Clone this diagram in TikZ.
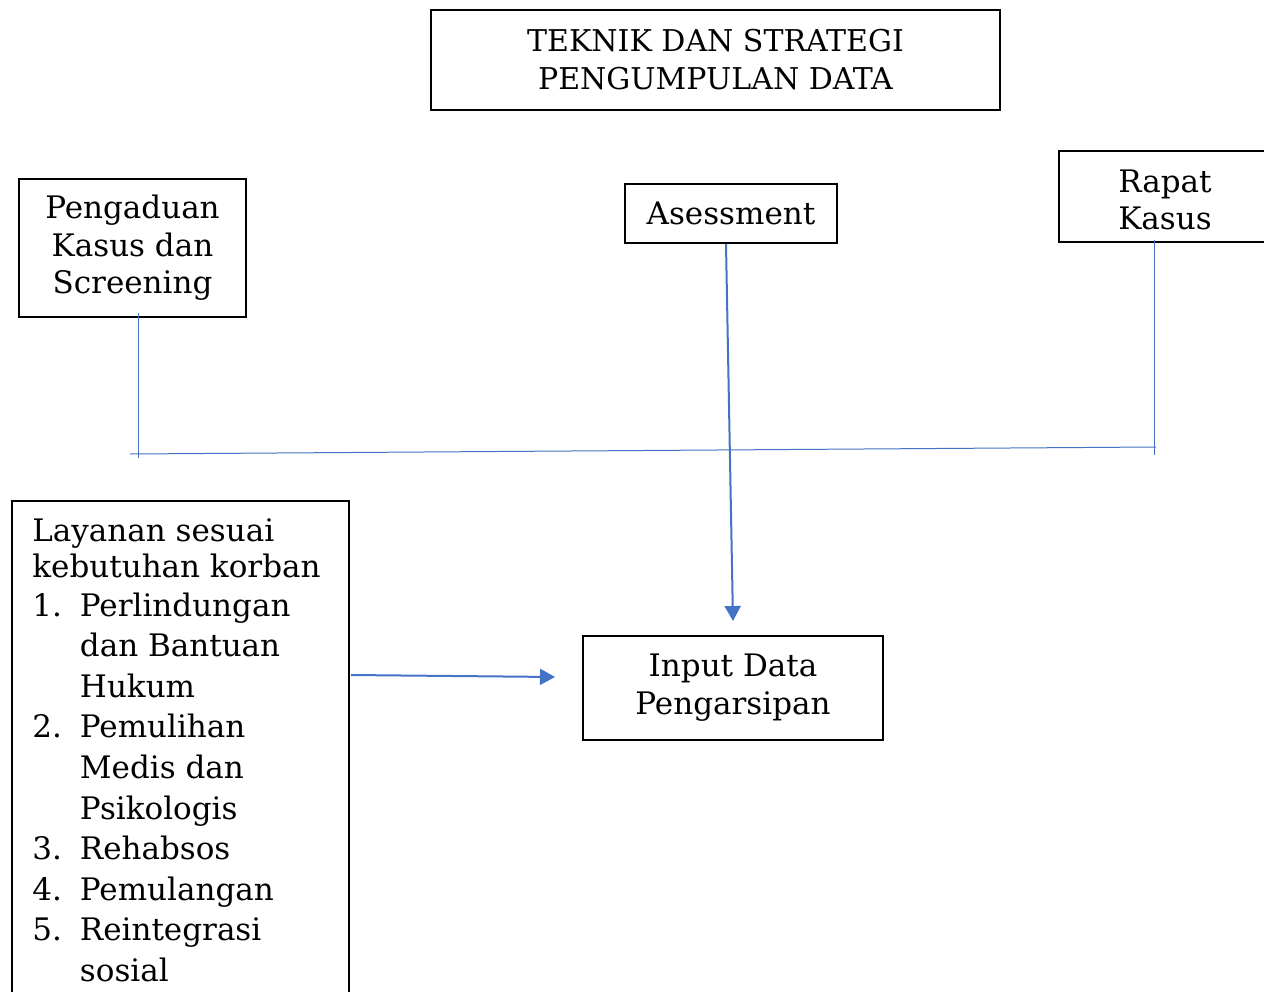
\documentclass[tikz,border=0pt]{standalone}
\usepackage{fontspec}
\setmainfont{DejaVu Serif}
\usetikzlibrary{arrows.meta}
\definecolor{linkblue}{RGB}{68,114,196}

\begin{document}
\begin{tikzpicture}[x=0.5pt,y=-0.5pt,
        box/.style={draw, rectangle, line width=1pt, inner sep=0pt, align=center, font=\fontsize{15.5}{18.7}\selectfont},
        link/.style={draw=linkblue, line width=0.5pt},
        flow/.style={draw=linkblue, line width=1pt, -{Triangle[length=7.5pt,width=8pt]}}]
        \useasboundingbox (0,0) rectangle (1264,991);

        \node[box, minimum width=284.5pt, minimum height=50pt, font=\fontsize{15}{19}\selectfont](TITLE) at (715.5,60){TEKNIK DAN STRATEGI\\PENGUMPULAN DATA};

        \node[box, minimum width=113.5pt, minimum height=69pt](PENG) at (132.5,248){Pengaduan\\Kasus dan\\Screening};
        \node[box, minimum width=106pt, minimum height=29.5pt](ASES) at (731,213.5){Asessment};
        \node[box, minimum width=106pt, minimum height=45.5pt](RAPAT) at (1165,196.5){\rule{0pt}{15pt}Rapat\\Kasus};

        \node[box, minimum width=150pt, minimum height=52pt, font=\fontsize{15.5}{19}\selectfont](INPUT) at (733,688){Input Data\\Pengarsipan};

        \node[draw, rectangle, line width=1pt, minimum width=168.5pt, minimum height=252pt, anchor=north west](LAY) at (11,500){};
        \node[anchor=north west, inner sep=0pt, font=\fontsize{15.5}{18}\selectfont](LAYTXT) at (32,516){%
            \begin{tabular}{@{}l@{\hspace{9pt}}l@{}}
            \multicolumn{2}{@{}l@{}}{Layanan sesuai}\\
            \multicolumn{2}{@{}l@{}}{kebutuhan korban}\\[1.2pt]
            1. & Perlindungan\\[2.3pt]
               & dan Bantuan\\[2.3pt]
               & Hukum\\[2.3pt]
            2. & Pemulihan\\[2.3pt]
               & Medis dan\\[2.3pt]
               & Psikologis\\[2.3pt]
            3. & Rehabsos\\[2.3pt]
            4. & Pemulangan\\[2.3pt]
            5. & Reintegrasi\\[2.3pt]
               & sosial
            \end{tabular}};

        % connectors
        \coordinate(P1) at (138,313);
        \coordinate(P2) at (138,458);
        \coordinate(R1) at (1154,240);
        \coordinate(R2) at (1154,455);
        \coordinate(JL) at (130,454);
        \coordinate(JR) at (1156,447);
        \coordinate(A1) at (351,675);
        \coordinate(A2) at (555,677);

        \path[link] (P1) -- (P2);
        \path[link] (R1) -- (R2);
        \path[link] (JL) -- (JR);

        \path[flow] ([xshift=-2.5pt]ASES.south) -- ([yshift=7pt]INPUT.north);
        \path[flow] (A1) -- (A2);
    \end{tikzpicture}
\end{document}
